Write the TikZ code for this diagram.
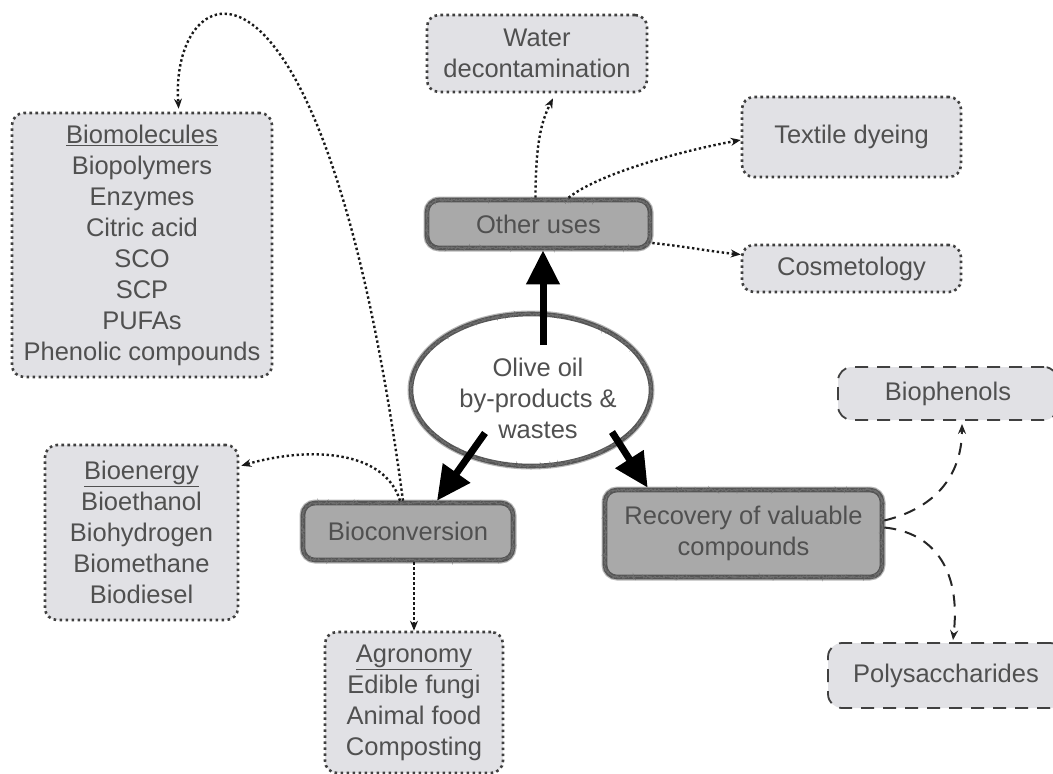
\documentclass[tikz,border=0pt]{standalone}
\usepackage{fontspec}
\setmainfont{Liberation Sans}
\usetikzlibrary{arrows.meta,decorations.pathmorphing,calc,shapes.geometric}
\definecolor{txt}{HTML}{505050}
\definecolor{boxfill}{HTML}{E1E1E5}
\definecolor{darkfill}{HTML}{A9A9A9}
\definecolor{rim}{HTML}{555555}
\definecolor{dotc}{HTML}{404040}
\begin{document}
\begin{tikzpicture}[x=1pt,y=-1pt,
  every node/.style={font=\fontsize{25.5}{31}\selectfont, text=txt, align=center, inner sep=0pt},
  lightbox/.style={rounded corners=12pt, fill=boxfill, draw=dotc, line width=2.6pt,
    dash pattern=on 2.6pt off 3.4pt},
  dashbox/.style={rounded corners=14pt, fill=boxfill, draw=dotc, line width=1.8pt,
    dash pattern=on 13pt off 9pt},
  fuzzy/.style={draw=rim, line width=4.6pt,
    preaction={draw=rim!70, line width=7pt, opacity=0.6},
    postaction={draw=rim!85, line width=0.9pt, sharp corners, decorate,
      decoration={random steps, segment length=0.8pt, amplitude=1.2pt}}},
  darkbox/.style={fuzzy, rounded corners=12pt, fill=darkfill},
  dotarrow/.style={draw=black!90, line width=2.4pt, dash pattern=on 2.4pt off 2.6pt,
    -{Stealth[length=10pt,width=8pt]}},
  dasharrow/.style={draw=black!85, line width=2pt, dash pattern=on 12pt off 9pt,
    -{Stealth[length=10pt,width=8pt]}},
  bigarrow/.style={draw=black, line width=7pt, -{Triangle[length=34pt,width=32pt]}}
]
\useasboundingbox (0,0) rectangle (1053,774);
\begin{scope}
\clip (0,0) rectangle (1053,774);

% light outcome boxes
\node[lightbox, minimum width=260pt, minimum height=264pt] (biomol) at (142,245)
  {\underline{Biomolecules}\\Biopolymers\\Enzymes\\Citric acid\\SCO\\SCP\\PUFAs\\Phenolic compounds};
\node[lightbox, minimum width=193pt, minimum height=175pt] (bioen) at (141.5,532.5)
  {\underline{Bioenergy}\\Bioethanol\\Biohydrogen\\Biomethane\\Biodiesel};
\node[lightbox, minimum width=178pt, minimum height=141pt] (agro) at (414,702.5)
  {\fontsize{25.5}{31.7}\selectfont\underline{Agronomy}\\Edible fungi\\Animal food\\Composting};
\node[lightbox, minimum width=220pt, minimum height=77pt] (water) at (537,53.5)
  {\fontsize{25.5}{30}\selectfont Water\\decontamination};
\node[lightbox, minimum width=219pt, minimum height=80pt] (textile) at (851.5,137) {Textile dyeing};
\node[lightbox, minimum width=219pt, minimum height=47pt] (cosmo) at (851.5,268.5) {Cosmetology};
\node[dashbox, minimum width=220pt, minimum height=53pt] (biophen) at (948,393.5) {Biophenols};
\node[dashbox, minimum width=236pt, minimum height=65pt] (polys) at (946,675.5) {Polysaccharides};

% main stages
\node[ellipse, fill=white, fuzzy, minimum width=240pt, minimum height=152pt] (olive) at (531,390) {};
\node (olivetxt) at (538,398) {Olive oil\\by-products \&\\wastes};
\node[darkbox, minimum width=223pt, minimum height=48pt] (other) at (538.5,224) {Other uses};
\node[darkbox, minimum width=210pt, minimum height=57pt] (bioconv) at (408,531.5) {Bioconversion};
\node[darkbox, minimum width=277pt, minimum height=87pt] (recov) at (743.5,533.5)
  {Recovery of valuable\\compounds};

% thick arrows out of the source
\coordinate (upstart) at (543,345);
\coordinate (dlstart) at (485,433);
\coordinate (drstart) at (612,432);
\draw[bigarrow] (upstart) -- (upstart |- other.south);
\draw[bigarrow] (dlstart) -- ([xshift=29pt]bioconv.north);
\draw[bigarrow] (drstart) -- ([xshift=45pt]recov.north west);

% dotted links from "Other uses"
\draw[dotarrow] ([xshift=-3pt]other.north) .. controls +(0,-60) and +(-10,20) .. ([xshift=16pt,yshift=-5pt]water.south);
\draw[dotarrow] ([xshift=30pt]other.north) .. controls +(30,-24) and +(-60,11) .. ([yshift=-3pt]textile.west);
\draw[dotarrow] ([yshift=-19pt]other.east) .. controls +(30,3) and +(-30,-3) .. ([yshift=14pt]cosmo.west);

% dotted links from "Bioconversion"
\draw[dotarrow] ([xshift=-5pt]bioconv.north) .. controls +(-80,-600) and +(-10,-135) .. ([xshift=168pt,yshift=3pt]biomol.north west);
\draw[dotarrow] ([xshift=-8pt]bioconv.north) .. controls +(-15,-50) and +(70,-20) .. ($(bioen.north east)+(2,22)$);
\draw[dotarrow] ([xshift=6pt]bioconv.south) -- (agro.north);

% dashed links from "Recovery"
\draw[dasharrow] ([yshift=13pt]recov.east) .. controls +(62,-15) and +(0,40) .. ([xshift=14pt,yshift=-3pt]biophen.south);
\draw[dasharrow] ([yshift=6pt]recov.east) .. controls +(50,5) and +(8,-70) .. ([xshift=7pt,yshift=2pt]polys.north);
\end{scope}
\end{tikzpicture}
\end{document}
